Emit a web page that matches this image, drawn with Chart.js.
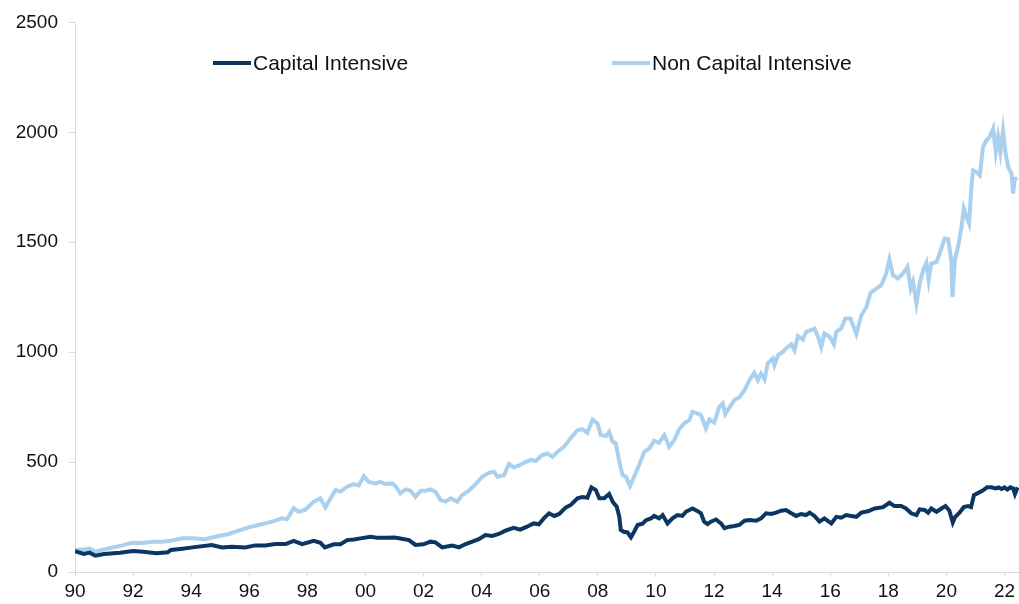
<!DOCTYPE html>
<html lang="en">
<head>
    <meta charset="UTF-8">
    <title>Capital vs Non Capital Intensive</title>
    <script src="https://cdn.jsdelivr.net/npm/chart.js"></script>
    <style>
        html, body {
            margin: 0;
            padding: 0;
            background: #ffffff;
            font-family: "Liberation Sans", Arial, sans-serif;
        }
        #wrap {
            position: relative;
            width: 1019px;
            height: 604px;
        }
        .legend-item {
            position: absolute;
            top: 49px;
            height: 28px;
            line-height: 28px;
            font-size: 21px;
            color: #111;
            white-space: nowrap;
        }
        .legend-item span.swatch {
            display: inline-block;
            width: 38px;
            height: 4px;
            vertical-align: middle;
            margin-right: 2px;
            margin-top: -3px;
        }
    </style>
</head>
<body>
<div id="wrap">
    <canvas id="chart" width="1019" height="604"></canvas>
    <div class="legend-item" style="left: 213px;"><span class="swatch" style="background:#0b3662;"></span>Capital Intensive</div>
    <div class="legend-item" style="left: 612px;"><span class="swatch" style="background:#a9d0ee;"></span>Non Capital Intensive</div>
</div>

<script>
    // values (x = year as decimal)
    const capDates = [
        1990.0, 1990.3, 1990.5, 1990.7, 1991.0, 1991.55, 1992.0, 1992.35, 1992.8, 1993.2,
        1993.3, 1993.7, 1994.05, 1994.71, 1995.06, 1995.4, 1995.86, 1996.2, 1996.55, 1996.9,
        1997.25, 1997.53, 1997.82, 1998.22, 1998.45, 1998.6, 1998.91, 1999.14, 1999.37, 1999.6,
        1999.83, 2000.17, 2000.4, 2000.75, 2001.0, 2001.2, 2001.5, 2001.72, 2002.0, 2002.24,
        2002.41, 2002.64, 2002.76, 2002.99, 2003.22, 2003.45, 2003.68, 2003.9, 2004.13, 2004.36,
        2004.59, 2004.82, 2005.1, 2005.33, 2005.56, 2005.79, 2005.97, 2006.14, 2006.32, 2006.5,
        2006.67, 2006.9, 2007.07, 2007.3, 2007.47, 2007.64, 2007.78, 2007.93, 2008.05, 2008.22,
        2008.39, 2008.51, 2008.65, 2008.74, 2008.79, 2008.9, 2009.02, 2009.14, 2009.25, 2009.37,
        2009.54, 2009.66, 2009.83, 2009.94, 2010.11, 2010.23, 2010.4, 2010.57, 2010.74, 2010.91,
        2011.03, 2011.26, 2011.44, 2011.55, 2011.66, 2011.78, 2011.89, 2012.07, 2012.24, 2012.36,
        2012.53, 2012.7, 2012.87, 2013.05, 2013.22, 2013.45, 2013.62, 2013.79, 2013.97, 2014.14,
        2014.31, 2014.48, 2014.66, 2014.83, 2015.0, 2015.17, 2015.29, 2015.46, 2015.63, 2015.8,
        2016.04, 2016.21, 2016.38, 2016.55, 2016.72, 2016.9, 2017.07, 2017.3, 2017.53, 2017.82,
        2018.04, 2018.21, 2018.44, 2018.61, 2018.79, 2018.97, 2019.08, 2019.25, 2019.37, 2019.48,
        2019.66, 2019.83, 2019.97, 2020.1, 2020.22, 2020.3, 2020.45, 2020.6, 2020.75, 2020.85,
        2020.95, 2021.1, 2021.25, 2021.4, 2021.55, 2021.7, 2021.8, 2021.9, 2022.0, 2022.1,
        2022.2, 2022.3, 2022.36, 2022.45
    ];
    const capValues = [
        95, 82, 88, 74, 82, 88, 95, 92, 85, 90,
        100, 106, 112, 123, 112, 115, 112, 121, 121, 127,
        127, 142, 127, 142, 133, 112, 126, 126, 145, 148,
        153, 160, 156, 156, 157, 152, 145, 123, 126, 138,
        135, 112, 115, 120, 112, 127, 138, 149, 168, 164,
        173, 188, 201, 193, 206, 221, 217, 244, 267, 255,
        264, 294, 305, 335, 341, 338, 385, 373, 335, 335,
        355, 320, 297, 251, 191, 183, 180, 158, 183, 214,
        220, 236, 244, 255, 244, 259, 221, 244, 259, 255,
        274, 289, 277, 267, 229, 218, 229, 239, 221, 199,
        206, 209, 214, 233, 236, 233, 244, 267, 264, 270,
        279, 282, 267, 255, 264, 259, 270, 255, 229, 244,
        221, 251, 247, 259, 255, 251, 270, 276, 289, 295,
        315, 300, 300, 289, 267, 259, 285, 282, 270, 289,
        274, 289, 300, 280, 225, 250, 270, 295, 300, 295,
        350, 360, 370, 385, 385, 380, 385, 378, 385, 375,
        385, 380, 355, 385
    ];

    const nonCapDates = [
        1990.0, 1990.3, 1990.5, 1990.7, 1991.0, 1991.3, 1991.55, 1991.95, 1992.3, 1992.7,
        1993.0, 1993.3, 1993.7, 1994.05, 1994.48, 1994.83, 1995.29, 1995.63, 1995.98, 1996.32,
        1996.55, 1996.78, 1997.13, 1997.3, 1997.53, 1997.7, 1997.93, 1998.22, 1998.45, 1998.62,
        1998.73, 1998.97, 1999.14, 1999.37, 1999.6, 1999.77, 1999.94, 2000.11, 2000.34, 2000.52,
        2000.69, 2000.92, 2001.03, 2001.2, 2001.38, 2001.55, 2001.72, 2001.9, 2002.07, 2002.24,
        2002.41, 2002.59, 2002.76, 2002.93, 2003.16, 2003.33, 2003.56, 2003.79, 2004.02, 2004.25,
        2004.43, 2004.54, 2004.77, 2004.94, 2005.11, 2005.29, 2005.46, 2005.69, 2005.86, 2006.09,
        2006.26, 2006.44, 2006.61, 2006.84, 2007.07, 2007.3, 2007.47, 2007.64, 2007.82, 2007.99,
        2008.1, 2008.28, 2008.39, 2008.51, 2008.62, 2008.74, 2008.85, 2008.97, 2009.11, 2009.25,
        2009.42, 2009.6, 2009.77, 2009.94, 2010.11, 2010.29, 2010.46, 2010.63, 2010.8, 2010.97,
        2011.15, 2011.26, 2011.44, 2011.55, 2011.72, 2011.84, 2012.01, 2012.18, 2012.3, 2012.39,
        2012.53, 2012.7, 2012.87, 2013.05, 2013.22, 2013.39, 2013.51, 2013.62, 2013.74, 2013.85,
        2014.02, 2014.08, 2014.2, 2014.37, 2014.48, 2014.66, 2014.77, 2014.89, 2015.06, 2015.17,
        2015.34, 2015.46, 2015.58, 2015.69, 2015.8, 2015.98, 2016.13, 2016.21, 2016.38, 2016.52,
        2016.7, 2016.9, 2017.07, 2017.24, 2017.39, 2017.59, 2017.76, 2017.93, 2018.04, 2018.16,
        2018.33, 2018.51, 2018.66, 2018.77, 2018.85, 2018.97, 2019.08, 2019.2, 2019.31, 2019.39,
        2019.48, 2019.66, 2019.77, 2019.94, 2020.06, 2020.17, 2020.21, 2020.29, 2020.4, 2020.52,
        2020.6, 2020.69, 2020.78, 2020.86, 2020.92, 2021.03, 2021.15, 2021.26, 2021.38, 2021.49,
        2021.61, 2021.7, 2021.78, 2021.86, 2021.95, 2022.04, 2022.13, 2022.24, 2022.3, 2022.35,
        2022.45
    ];
    const nonCapValues = [
        100, 102, 108, 92, 103, 112, 118, 133, 132, 138,
        138, 142, 153, 153, 149, 160, 173, 188, 203, 214,
        221, 229, 244, 240, 290, 274, 283, 320, 335, 294,
        320, 373, 366, 388, 400, 394, 436, 410, 403, 410,
        400, 403, 391, 358, 376, 370, 342, 370, 370, 376,
        365, 327, 320, 335, 320, 350, 370, 400, 433, 451,
        456, 433, 440, 491, 476, 485, 497, 510, 505, 532,
        539, 524, 547, 570, 610, 645, 650, 633, 694, 676,
        623, 618, 638, 592, 585, 501, 441, 432, 391, 433,
        486, 547, 562, 597, 588, 623, 570, 600, 649, 676,
        691, 729, 720, 714, 653, 694, 680, 751, 767, 718,
        748, 782, 794, 827, 873, 906, 873, 903, 876, 949,
        971, 941, 986, 1001, 1017, 1036, 1009, 1073, 1058, 1092,
        1100, 1108, 1070, 1024, 1085, 1070, 1036, 1092, 1108, 1153,
        1153, 1082, 1168, 1203, 1270, 1289, 1305, 1358, 1421, 1350,
        1335, 1358, 1388, 1289, 1320, 1221, 1312, 1373, 1406, 1327,
        1403, 1410, 1449, 1517, 1515, 1418, 1251, 1418, 1478, 1569,
        1653, 1615, 1585, 1751, 1827, 1820, 1804, 1933, 1964, 1979,
        2017, 1910, 1979, 1910, 2009, 1903, 1842, 1812, 1721, 1789,
        1789
    ];

    const yTicks = [0, 500, 1000, 1500, 2000, 2500];

    const toPoints = (xs, ys) => xs.map((x, i) => ({ x: x, y: ys[i] }));

    const axisGrey = "#d9d9d9";
    const tickFont = { family: "'Liberation Sans', Arial, sans-serif", size: 19 };

    new Chart(document.getElementById("chart"), {
        type: "line",
        data: {
            datasets: [
                {
                    label: "Capital Intensive",
                    data: toPoints(capDates, capValues),
                    borderColor: "#0b3662",
                    borderWidth: 4,
                    pointRadius: 0,
                    tension: 0,
                    fill: false
                },
                {
                    label: "Non Capital Intensive",
                    data: toPoints(nonCapDates, nonCapValues),
                    borderColor: "#a9d0ee",
                    borderWidth: 4,
                    pointRadius: 0,
                    tension: 0,
                    fill: false
                }
            ]
        },
        options: {
            responsive: false,
            animation: false,
            layout: { padding: { top: 22, right: 0, left: 0, bottom: 0 } },
            plugins: {
                legend: { display: false },
                tooltip: { enabled: false }
            },
            scales: {
                x: {
                    type: "linear",
                    min: 1990,
                    max: 2022.5,
                    afterFit: scale => { scale.height = 32; },
                    grid: {
                        drawOnChartArea: false,
                        drawTicks: true,
                        tickLength: 5,
                        color: axisGrey
                    },
                    border: { display: true, color: axisGrey, width: 1 },
                    ticks: {
                        stepSize: 2,
                        includeBounds: false,
                        autoSkip: false,
                        maxRotation: 0,
                        padding: 3,
                        color: "#111",
                        font: tickFont,
                        callback: v => String(Math.round(v) % 100).padStart(2, "0")
                    }
                },
                y: {
                    min: 0,
                    max: 2500,
                    afterFit: scale => { scale.width = 75; },
                    afterBuildTicks: scale => {
                        scale.ticks = yTicks.map(v => ({ value: v }));
                    },
                    grid: {
                        drawOnChartArea: false,
                        drawTicks: true,
                        tickLength: 6,
                        color: axisGrey
                    },
                    border: { display: true, color: axisGrey, width: 1 },
                    ticks: {
                        padding: 11,
                        color: "#111",
                        font: tickFont,
                        callback: v => String(v)
                    }
                }
            }
        }
    });
</script>
</body>
</html>
